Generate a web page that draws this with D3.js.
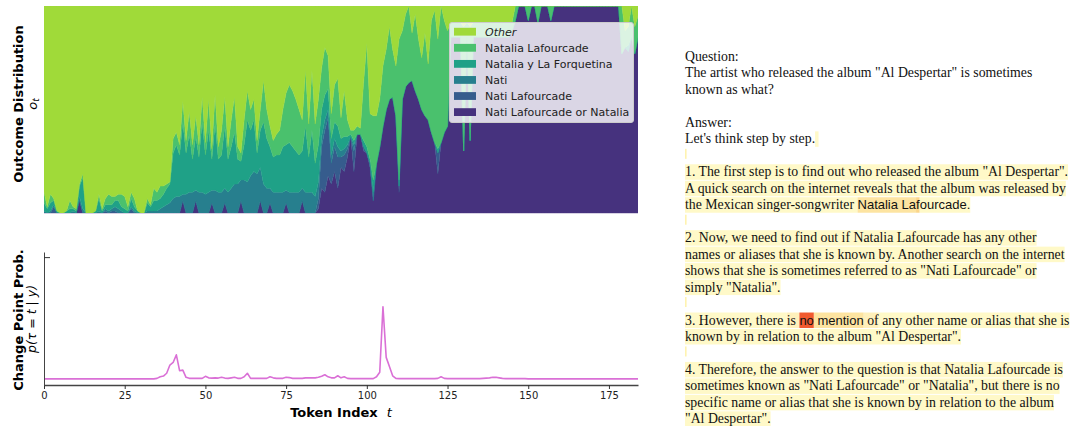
<!DOCTYPE html>
<html><head><meta charset="utf-8">
<script src="https://cdn.jsdelivr.net/npm/d3@7"></script>
<style>body{margin:0;background:#fff} svg{display:block} .pre{white-space:pre}</style>
</head><body>
<svg id="c" width="1071" height="426"></svg>
<script>
// ---------- DATA ----------
const seriesNames = ["Nati Lafourcade or Natalia","Nati Lafourcade","Nati","Natalia y La Forquetina","Natalia Lafourcade","Other"];
const seriesColors = ["#46327e","#365c8d","#277f8e","#1fa187","#4ac16d","#a0da39"];
const legendOrder = ["Other","Natalia Lafourcade","Natalia y La Forquetina","Nati","Nati Lafourcade","Nati Lafourcade or Natalia"];

const natiLafourcadeOrNatalia = [
0,0,0,0,0,0,0,0,0,0,
0,0.06,0,0,0,0,0,0,0,0,
0,0,0,0,0,0,0,0,0,0,
0,0,0,0,0,0,0,0,0,0,
0,0,0,0.06,0,0,0,0.06,0,0,
0,0,0.05,0,0,0,0.05,0,0,0,
0,0.06,0,0,0,0,0,0.06,0,0,
0.05,0,0,0,0,0.05,0,0,0,0,
0.06,0,0,0,0,0.02,0.12,0.10,0.18,0.14,
0.20,0.12,0.22,0.20,0.27,0.37,0.20,0.38,0.38,0.30,
0.29,0.22,0.06,0.24,0.32,0.42,0.50,0.55,0.56,0.47,
0.10,0.55,0.61,0.63,0.64,0.59,0.55,0.50,0.47,0.45,
0.39,0.34,0.19,0.34,0.39,0.42,0.85,0.85,0.85,0.85,
0.30,0.85,0.35,0.85,0.85,0.85,0.85,0.85,0.85,0.85,
0.85,0.85,0.85,0.85,0.85,0.88,0.93,1,1,1,
0.93,1,1,0.92,1,1,1,0.93,1,1,
1,1,1,1,1,1,1,1,1,1,
1,1,1,1,1,1,1,1,1,0.77,
0.80,0.78,0.85,0.77,0.85];
const natiLafourcade = [
0,0,0,0.03,0,0,0,0,0,0,
0,0,0,0,0,0,0,0,0,0.01,
0,0.01,0.01,0,0,0,0,0.02,0,0,
0,0,0,0,0,0,0,0,0,0,
0,0,0,0,0,0,0,0,0,0,
0,0,0,0,0,0,0,0,0,0,
0,0,0,0,0,0,0,0,0,0,
0,0,0,0,0,0,0,0,0,0,
0,0,0,0,0,0.05,0.20,0.30,0.28,0.10,
0.12,0.15,0.05,0.08,0.04,0,0.10,0,0,0.02,
0,0.02,0,0,0,0,0,0,0,0,
0.03,0,0,0,0,0,0,0,0,0,
0,0,0.10,0,0,0,0,0,0,0,
0,0,0,0,0,0,0,0,0,0,
0,0,0,0,0,0,0,0,0,0,
0,0,0,0,0,0,0,0,0,0,
0,0,0,0,0,0,0,0,0,0,
0,0,0,0,0,0,0,0,0,0,
0,0,0,0,0];
const nati = [
0.01,0,0.01,0.01,0,0,0,0,0,0.01,
0,0.02,0.02,0,0,0,0,0.01,0,0.01,
0.01,0.01,0.02,0.02,0.01,0,0,0.01,0.01,0,
0,0,0.01,0.01,0.01,0.01,0.02,0.03,0.04,0.05,
0.07,0.08,0.08,0.03,0.09,0.10,0.10,0.05,0.10,0.10,
0.09,0.10,0.06,0.11,0.10,0.10,0.07,0.10,0.12,0.14,
0.14,0.10,0.16,0.15,0.18,0.20,0.19,0.16,0.14,0.12,
0.07,0.10,0.10,0.10,0.10,0.06,0.10,0.10,0.10,0.10,
0.06,0.10,0.10,0.10,0.08,0.08,0.05,0.05,0.04,0.04,
0.04,0.05,0.03,0.03,0.02,0,0.03,0,0,0,
0,0,0.04,0,0,0,0,0,0,0,
0,0,0,0,0,0,0,0,0,0,
0,0,0,0,0,0,0,0,0,0,
0,0,0,0,0,0,0,0,0,0,
0,0,0,0,0,0,0,0,0,0,
0,0,0,0,0,0,0,0,0,0,
0,0,0,0,0,0,0,0,0,0,
0,0,0,0,0,0,0,0,0,0,
0,0,0,0,0];
const nataliaYLaForquetina = [
0.04,0.02,0.04,0.02,0.01,0,0,0.01,0.02,0.01,
0.01,0.05,0.15,0,0,0,0.01,0.06,0.01,0.02,
0.03,0.02,0.03,0.04,0.02,0.02,0.01,0.04,0.02,0.01,
0,0,0.04,0.02,0.05,0.05,0.05,0.06,0.08,0.09,
0.22,0.25,0.20,0.35,0.20,0.28,0.16,0.26,0.17,0.34,
0.19,0.30,0.15,0.32,0.16,0.18,0.30,0.16,0.20,0.25,
0.12,0.09,0.17,0.30,0.22,0.25,0.10,0.18,0.30,0.24,
0.20,0.17,0.18,0.18,0.22,0.22,0.24,0.22,0.20,0.18,
0.18,0.32,0.17,0.30,0.16,0.18,0.13,0.12,0.10,0.08,
0.08,0.10,0.06,0.06,0.04,0.01,0.02,0,0,0.03,
0.03,0.02,0.06,0,0,0,0,0,0,0,
0.03,0,0,0,0,0,0,0,0,0,
0,0,0.02,0,0,0,0,0,0,0,
0,0,0,0,0,0,0,0,0,0,
0,0,0,0,0,0,0,0,0,0,
0,0,0,0,0,0,0,0,0,0,
0,0,0,0,0,0,0,0,0,0,
0,0,0,0,0,0,0,0,0,0,
0,0.03,0,0,0];
const nataliaLafourcade = [
0.05,0.01,0.04,0.01,0,0,0,0,0.04,0.01,
0.01,0.01,0.02,0,0,0,0,0.02,0.01,0.03,
0.05,0.04,0.02,0.03,0.06,0.06,0.02,0.03,0.04,0,
0,0,0.02,0.01,0.06,0.04,0.06,0.04,0.02,0.01,
0.07,0.06,0.05,0.10,0.06,0.11,0.07,0.10,0.06,0.12,
0.06,0.15,0.05,0.14,0.06,0.12,0.14,0.06,0.13,0.17,
0.06,0.04,0.12,0.14,0.10,0.10,0.06,0.10,0.20,0.14,
0.10,0.08,0.10,0.12,0.18,0.25,0.28,0.27,0.25,0.22,
0.15,0.27,0.16,0.29,0.19,0.22,0.20,0.23,0.16,0.12,
0.18,0.23,0.10,0.22,0.08,0.02,0.05,0.04,0.03,0.28,
0.50,0.22,0.31,0.23,0.23,0.29,0.29,0.35,0.23,0.24,
0.68,0.33,0.35,0.37,0.23,0.37,0.29,0.25,0.40,0.27,
0.54,0.64,0.53,0.66,0.54,0.46,0.07,0.07,0.07,0.07,
0.60,0.07,0.55,0.07,0.07,0.07,0.07,0.07,0.07,0.07,
0.07,0.07,0.07,0.07,0.07,0.04,0.07,0,0,0,
0.07,0,0,0.08,0,0,0,0.07,0,0,
0,0,0,0,0,0,0,0,0,0,
0,0,0,0,0,0,0,0,0,0.23,
0.08,0.09,0.15,0.13,0.10];
const other = [
0.90,0.97,0.91,0.93,0.99,1,1,0.99,0.94,0.97,
0.98,0.86,0.81,1,1,1,0.99,0.91,0.98,0.93,
0.91,0.92,0.92,0.91,0.91,0.92,0.97,0.90,0.93,0.99,
1,1,0.93,0.96,0.88,0.90,0.87,0.87,0.86,0.85,
0.64,0.61,0.67,0.46,0.65,0.51,0.67,0.53,0.67,0.44,
0.66,0.45,0.69,0.43,0.68,0.60,0.44,0.68,0.55,0.44,
0.68,0.71,0.55,0.41,0.50,0.45,0.65,0.50,0.36,0.50,
0.58,0.65,0.62,0.60,0.50,0.42,0.38,0.41,0.45,0.50,
0.55,0.31,0.57,0.31,0.57,0.45,0.30,0.20,0.24,0.52,
0.38,0.35,0.54,0.41,0.55,0.60,0.60,0.58,0.59,0.37,
0.18,0.52,0.53,0.53,0.45,0.29,0.21,0.10,0.21,0.29,
0.16,0.12,0.04,0,0.13,0.04,0.16,0.25,0.13,0.28,
0.07,0.02,0.16,0,0.07,0.12,0.08,0.08,0.08,0.08,
0.10,0.08,0.10,0.08,0.08,0.08,0.08,0.08,0.08,0.08,
0.08,0.08,0.08,0.08,0.08,0.08,0,0,0,0,
0,0,0,0,0,0,0,0,0,0,
0,0,0,0,0,0,0,0,0,0,
0,0,0,0,0,0,0,0,0,0,
0.12,0.10,0,0.10,0.05];

const changePointProb = [
0.012,0.012,0.012,0.012,0.012,0.012,0.012,0.012,0.012,0.012,
0.012,0.012,0.012,0.012,0.012,0.012,0.012,0.012,0.012,0.012,
0.012,0.012,0.012,0.012,0.012,0.012,0.012,0.012,0.012,0.012,
0.012,0.012,0.012,0.012,0.012,0.013,0.016,0.0175,0.023,0.039,
0.044,0.059,0.028,0.029,0.015,0.013,0.013,0.013,0.013,0.013,
0.017,0.014,0.0135,0.014,0.0135,0.015,0.0135,0.013,0.014,0.015,
0.013,0.013,0.016,0.023,0.013,0.013,0.013,0.013,0.013,0.013,
0.016,0.014,0.013,0.013,0.013,0.015,0.0145,0.013,0.013,0.013,
0.013,0.014,0.014,0.014,0.014,0.015,0.017,0.020,0.016,0.014,
0.014,0.018,0.014,0.016,0.013,0.0125,0.0125,0.0125,0.0125,0.0125,
0.0125,0.0125,0.0125,0.016,0.025,0.153,0.054,0.036,0.018,0.013,
0.0125,0.0125,0.0125,0.0125,0.0125,0.0125,0.0125,0.0125,0.0125,0.0125,
0.0125,0.0125,0.013,0.016,0.013,0.0125,0.0125,0.0125,0.0125,0.0125,
0.0125,0.0125,0.0125,0.0125,0.0125,0.0125,0.013,0.0135,0.014,0.015,
0.015,0.014,0.013,0.0125,0.0125,0.0125,0.0125,0.0125,0.0125,0.0125,
0.012,0.012,0.012,0.012,0.012,0.012,0.012,0.012,0.012,0.012,
0.012,0.012,0.012,0.012,0.012,0.012,0.012,0.012,0.012,0.012,
0.012,0.012,0.012,0.012,0.012,0.012,0.012,0.012,0.012,0.012,
0.012,0.012,0.012,0.012,0.012];

const xTickValues = [0,25,50,75,100,125,150,175];
const xTickLabels = ["0","25","50","75","100","125","150","175"];

// text panel: [segment text, highlight, font] per line; null = no highlight
const HL = {pale:"#fff9c8", pale2:"#fff0bb", orange1:"#fde4a1", orange2:"#fbd68a", red:"#f15a30", marker:"#fff3b0"};
const textLines = [
 [["Question:",null]],
 [['The artist who released the album "Al Despertar" is sometimes',null]],
 [["known as what?",null]],
 [],
 [["Answer:",null]],
 [["Let's think step by step.",null],[" ","pale"]],
 "marker",
 [['1. The first step is to find out who released the album "Al Despertar".',"pale"]],
 [["A quick search on the internet reveals that the album was released by","pale"]],
 [["the Mexican singer-songwriter ","pale"],["Natalia La","orange1","sans"],["f","orange2","sans"],["ourcade.","pale","sans"]],
 "marker",
 [["2. Now, we need to find out if Natalia Lafourcade has any other","pale"]],
 [["names or aliases that she is known by. Another search on the internet","pale"]],
 [['shows that she is sometimes referred to as "Nati Lafourcade" or',"pale"]],
 [['simply "Natalia".',"pale"]],
 "marker",
 [["3. However, there ","pale"],["is ","pale2"],["no","red","sans"],[" mention","orange1","sans"],[" of","pale2"],[" any other name or alias that she is","pale"]],
 [['known by in relation to the album "Al Despertar".',"pale"]],
 "marker",
 [["4. Therefore, the answer to the question is that Natalia Lafourcade is","pale"]],
 [['sometimes known as "Nati Lafourcade" or "Natalia", but there is no',"pale"]],
 [['specific name or alias that she is known by in relation to the album',"pale"]],
 [['"Al Despertar".',"pale"]]
];

// ---------- CHART ----------
const svg = d3.select("#c");
const FONT = "'DejaVu Sans', sans-serif";
const tokens = natiLafourcadeOrNatalia.map((_, i) => i);
const rows = tokens.map(i => {
  const r = {t: i};
  r[seriesNames[0]] = natiLafourcadeOrNatalia[i];
  r[seriesNames[1]] = natiLafourcade[i];
  r[seriesNames[2]] = nati[i];
  r[seriesNames[3]] = nataliaYLaForquetina[i];
  r[seriesNames[4]] = nataliaLafourcade[i];
  r[seriesNames[5]] = other[i];
  return r;
});

const x = d3.scaleLinear().domain([0, 184]).range([44, 638]);
const yTop = d3.scaleLinear().domain([0, 1]).range([213, 6]);
const stacked = d3.stack().keys(seriesNames)(rows);
const area = d3.area().x(d => x(d.data.t)).y0(d => yTop(d[0])).y1(d => yTop(d[1]));

const gTop = svg.append("g");
gTop.append("clipPath").attr("id","clipTop").append("rect")
  .attr("x", 44).attr("y", 6).attr("width", 594).attr("height", 207);
gTop.append("g").attr("clip-path","url(#clipTop)")
  .selectAll("path").data(stacked).join("path")
  .attr("d", area)
  .attr("fill", (d, i) => seriesColors[i])
  .attr("stroke", (d, i) => seriesColors[i])
  .attr("stroke-width", 0.4);
gTop.append("line").attr("x1",44).attr("x2",638).attr("y1",213.5).attr("y2",213.5)
  .attr("stroke","#d6d1e3").attr("stroke-width",1);

// legend
const lg = svg.append("g");
lg.append("rect").attr("x",449.5).attr("y",22.5).attr("width",184).attr("height",100)
  .attr("rx",2.5).attr("fill","rgba(255,255,255,0.8)").attr("stroke","#cccccc").attr("stroke-width",1);
legendOrder.forEach((name, i) => {
  const cy = 31.7 + i * 16.08;
  lg.append("rect").attr("x",454).attr("y",cy-3.9).attr("width",22).attr("height",7.8)
    .attr("fill", seriesColors[seriesNames.indexOf(name)]);
  lg.append("text").attr("x",485).attr("y",cy+4).attr("font-family",FONT).attr("font-size",11)
    .attr("font-style", name === "Other" ? "italic" : "normal").attr("fill","#222").text(name);
});

// top y labels
svg.append("text").attr("transform","translate(22.7,104) rotate(-90)").attr("text-anchor","middle")
  .attr("font-family",FONT).attr("font-weight","bold").attr("font-size",13).attr("fill","#000")
  .text("Outcome Distribution");
const ot = svg.append("text").attr("transform","translate(36.5,104) rotate(-90)").attr("text-anchor","middle")
  .attr("font-family",FONT).attr("font-style","italic").attr("font-size",13).attr("fill","#000");
ot.append("tspan").text("o");
ot.append("tspan").attr("font-size",9).attr("dy",2.5).text("t");

// bottom chart
const yBot = d3.scaleLinear().domain([0, 0.26]).range([385, 252]);
const gB = svg.append("g");
const line = d3.line().x((d, i) => x(i)).y(d => yBot(d));
gB.append("path").datum(changePointProb).attr("d", line).attr("fill","none")
  .attr("stroke","#da70d6").attr("stroke-width",1.6).attr("stroke-linejoin","round");

const xAxis = d3.axisBottom(x).tickValues(xTickValues).tickFormat((d, i) => xTickLabels[i])
  .tickSize(4).tickSizeOuter(0).tickPadding(3);
const gx = gB.append("g").attr("transform","translate(0,385)").call(xAxis);
gx.select(".domain").attr("stroke","#444").attr("stroke-width",1.3);
gx.selectAll(".tick line").attr("stroke","#333");
gx.selectAll("text").attr("font-family",FONT).attr("font-size",10).attr("fill","#222");

const yAxis = d3.axisLeft(yBot).tickValues([0.25]).tickFormat(() => "").tickSize(-6).tickSizeOuter(0);
const gy = gB.append("g").attr("transform","translate(44,0)").call(yAxis);
gy.select(".domain").attr("stroke","#444").attr("stroke-width",1);
gy.selectAll(".tick line").attr("stroke","#333");

svg.append("text").attr("transform","translate(22.7,320) rotate(-90)").attr("text-anchor","middle")
  .attr("font-family",FONT).attr("font-weight","bold").attr("font-size",13).attr("fill","#000")
  .text("Change Point Prob.");
svg.append("text").attr("transform","translate(35.5,319) rotate(-90)").attr("text-anchor","middle")
  .attr("font-family",FONT).attr("font-style","italic").attr("font-size",12.5).attr("fill","#000")
  .text("p(\u03c4 = t | y)");

const xl = svg.append("text").attr("x",341).attr("y",416.5).attr("text-anchor","middle")
  .attr("font-family",FONT).attr("font-size",13).attr("fill","#000").attr("class","pre");
xl.append("tspan").attr("font-weight","bold").text("Token Index  ");
xl.append("tspan").attr("font-style","italic").text("t");

// ---------- TEXT PANEL ----------
const TFONT = "'Liberation Serif', 'Times New Roman', serif";
const SFONT = "'Liberation Sans', Arial, sans-serif";
const TSIZE = 13.8, SSIZE = 13;
const tp = svg.append("g");
const measure = tp.append("text").attr("class","pre").attr("opacity",0);
function w(s, f){
  measure.attr("font-family", f === "sans" ? SFONT : TFONT).attr("font-size", f === "sans" ? SSIZE : TSIZE).text(s);
  return measure.node().getComputedTextLength();
}
const X0 = 685, B0 = 61, LH = 16.47;
textLines.forEach((ln, i) => {
  const base = B0 + i * LH;
  if (ln === "marker") {
    tp.append("rect").attr("x",X0).attr("y",base-11).attr("width",1.6).attr("height",10).attr("fill",HL.marker);
    return;
  }
  let cx = X0;
  ln.forEach(([s, h, f]) => {
    const ww = w(s, f);
    if (h) tp.append("rect").attr("x",cx).attr("y",base-12).attr("width",ww).attr("height",15.5).attr("fill",HL[h]);
    cx += ww;
  });
  cx = X0;
  ln.forEach(([s, h, f]) => {
    const ww = w(s, f);
    if (s.trim().length) tp.append("text").attr("x",cx).attr("y",base).attr("class","pre")
      .attr("font-family", f === "sans" ? SFONT : TFONT).attr("font-size", f === "sans" ? SSIZE : TSIZE)
      .attr("fill","#111").text(s);
    cx += ww;
  });
});
measure.remove();
</script>
</body></html>
